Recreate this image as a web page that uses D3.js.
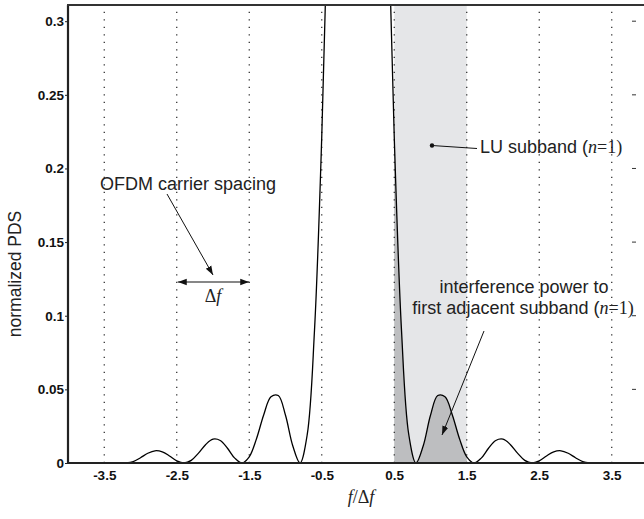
<!DOCTYPE html>
<html><head><meta charset="utf-8">
<script src="https://cdn.jsdelivr.net/npm/d3@7"></script>
<style>body{margin:0;background:#fff}svg{display:block}</style>
</head><body>
<svg id="c" width="644" height="519"></svg>
<script>
// Normalized PSD (f / Δf vs value)
const freq = [-3.2,-3.1,-3.0,-2.9,-2.8,-2.7,-2.6,-2.5,-2.4,-2.3,-2.2,-2.1,-2.0,-1.9,-1.8,-1.7,-1.6,-1.5,-1.4,-1.3,-1.2,-1.1,-1.0,-0.9,-0.8,-0.7,-0.6,-0.5,-0.4,-0.3,-0.2,-0.1,0,
  0.1,0.2,0.3,0.4,0.5,0.6,0.7,0.8,0.9,1.0,1.1,1.2,1.3,1.4,1.5,1.6,1.7,1.8,1.9,2.0,2.1,2.2,2.3,2.4,2.5,2.6,2.7,2.8,2.9,3.0,3.1,3.2];
const psd = [0,0.0010,0.0036,0.0066,0.0083,0.0076,0.0048,0.0015,0,0.0018,0.0067,0.0126,0.0162,0.0153,0.0100,0.0033,0,0.0042,0.0165,0.0328,0.0450,0.0458,0.0324,0.0117,0,0.0194,0.0901,0.2214,0.4053,0.6150,0.8106,0.9497,1.0,
  0.9497,0.8106,0.6150,0.4053,0.2214,0.0901,0.0194,0,0.0117,0.0324,0.0458,0.0450,0.0328,0.0165,0.0042,0,0.0033,0.0100,0.0153,0.0162,0.0126,0.0067,0.0018,0,0.0015,0.0048,0.0076,0.0083,0.0066,0.0036,0.0010,0];
const xTicks = [-3.5,-2.5,-1.5,-0.5,0.5,1.5,2.5,3.5];
const yTicks = [0,0.05,0.1,0.15,0.2,0.25,0.3];
const subband = [0.5, 1.5];

const svg = d3.select("#c");
const x = d3.scaleLinear().domain([-4,4]).range([68,648]);
const y = d3.scaleLinear().domain([0,0.311]).range([463,5]);
const sans = "'Liberation Sans', Arial, Helvetica, sans-serif";
const serif = "'Liberation Serif', 'Times New Roman', serif";

svg.append("defs").append("clipPath").attr("id","clip")
  .append("rect").attr("x",68).attr("y",5).attr("width",580).attr("height",458);
const mk = svg.select("defs").append("marker").attr("id","ah").attr("viewBox","0 0 10 10")
  .attr("refX",10).attr("refY",5).attr("markerWidth",9).attr("markerHeight",9)
  .attr("markerUnits","userSpaceOnUse").attr("orient","auto-start-reverse");
mk.append("path").attr("d","M0,1.5 L10,5 L0,8.5 Z").attr("fill","#111");

const plot = svg.append("g").attr("clip-path","url(#clip)");
// light subband band
plot.append("rect").attr("x",x(subband[0])).attr("y",y(0.311))
  .attr("width",x(subband[1])-x(subband[0])).attr("height",y(0)-y(0.311)).attr("fill","#e5e6e8");

const pts = freq.map((f,i)=>({f, v:psd[i]}));
// interference area
const area = d3.area().x(d=>x(d.f)).y0(y(0)).y1(d=>y(d.v)).curve(d3.curveCatmullRom);
plot.append("path").datum(pts.filter(d=>d.f>=subband[0]-1e-9 && d.f<=subband[1]+1e-9))
  .attr("d",area).attr("fill","#bdbec0");

// dotted vertical grid
plot.selectAll(".grid").data(xTicks).join("line")
  .attr("x1",d=>x(d)).attr("x2",d=>x(d)).attr("y1",y(0)).attr("y2",5)
  .attr("stroke","#222").attr("stroke-width",1.2).attr("stroke-dasharray","1.2,6.3");

// curve
const line = d3.line().x(d=>x(d.f)).y(d=>y(d.v)).curve(d3.curveCatmullRom);
plot.append("path").datum(pts).attr("d",line).attr("fill","none").attr("stroke","#000").attr("stroke-width",1.3);

// axes
const yAxis = d3.axisLeft(y).tickValues(yTicks).tickSize(3).tickFormat(d=>d===0?"0":String(d));
const gy = svg.append("g").attr("transform","translate(68,0)").call(yAxis);
gy.select(".domain").remove();
gy.selectAll("text").attr("font-family",sans).attr("font-weight","bold").attr("font-size",13.5).attr("x",-4).attr("fill","#111");
gy.selectAll("line").attr("stroke","#222");
const xAxis = d3.axisBottom(x).tickValues(xTicks).tickSize(0).tickFormat(d=>String(d));
const gx = svg.append("g").attr("transform","translate(0,463)").call(xAxis);
gx.select(".domain").remove();
gx.selectAll("text").attr("font-family",sans).attr("font-weight","bold").attr("font-size",13.5).attr("dy","0").attr("y",17).attr("fill","#111");

// right side tick marks
svg.selectAll(".rt").data(yTicks.slice(1)).join("line")
  .attr("x1",632).attr("x2",636).attr("y1",d=>y(d)).attr("y2",d=>y(d)).attr("stroke","#333").attr("stroke-width",1);

svg.append("line").attr("x1",68).attr("x2",644).attr("y1",y(0)).attr("y2",y(0)).attr("stroke","#222").attr("stroke-width",2.2);
svg.append("line").attr("x1",68).attr("x2",68).attr("y1",5).attr("y2",y(0)+1).attr("stroke","#222").attr("stroke-width",2.2);
svg.append("line").attr("x1",67).attr("x2",644).attr("y1",5).attr("y2",5).attr("stroke","#333").attr("stroke-width",1.8);

// axis labels
svg.append("text").attr("transform","translate(21,274) rotate(-90)").attr("text-anchor","middle")
  .attr("font-family",sans).attr("font-size",17.5).attr("fill","#222").text("normalized PDS");
const xl = svg.append("text").attr("x",361).attr("y",503).attr("text-anchor","middle")
  .attr("font-family",serif).attr("font-size",18).attr("fill","#222");
xl.append("tspan").attr("font-style","italic").text("f");
xl.append("tspan").text("/Δ");
xl.append("tspan").attr("font-style","italic").text("f");

// OFDM carrier spacing annotation
svg.append("text").attr("x",100).attr("y",190).attr("font-family",sans).attr("font-size",18).attr("fill","#222").text("OFDM carrier spacing");
svg.append("line").attr("x1",167).attr("y1",194).attr("x2",213).attr("y2",275)
  .attr("stroke","#111").attr("stroke-width",1).attr("marker-end","url(#ah)");
svg.append("line").attr("x1",x(-2.5)+1).attr("y1",282).attr("x2",x(-1.5)).attr("y2",282)
  .attr("stroke","#111").attr("stroke-width",1.2).attr("marker-end","url(#ah)").attr("marker-start","url(#ah)");
const df = svg.append("text").attr("x",213).attr("y",302).attr("text-anchor","middle").attr("font-family",serif).attr("font-size",18).attr("fill","#222");
df.append("tspan").text("Δ");
df.append("tspan").attr("font-style","italic").text("f");

// LU subband annotation
svg.append("circle").attr("cx",432).attr("cy",145.5).attr("r",2.2).attr("fill","#111");
svg.append("line").attr("x1",432).attr("y1",145.5).attr("x2",477).attr("y2",148.5).attr("stroke","#111").attr("stroke-width",1);
const lu = svg.append("text").attr("x",480).attr("y",153).attr("font-family",sans).attr("font-size",18).attr("fill","#222");
lu.append("tspan").text("LU subband (");
lu.append("tspan").attr("font-family",serif).attr("font-style","italic").text("n");
lu.append("tspan").attr("font-family",serif).text("=1)");

// interference annotation
svg.append("text").attr("x",524).attr("y",293).attr("text-anchor","middle").attr("font-family",sans).attr("font-size",18).attr("fill","#222").text("interference power to");
const ip = svg.append("text").attr("x",523).attr("y",314).attr("text-anchor","middle").attr("font-family",sans).attr("font-size",18).attr("fill","#222");
ip.append("tspan").text("first adjacent subband (");
ip.append("tspan").attr("font-family",serif).attr("font-style","italic").text("n");
ip.append("tspan").attr("font-family",serif).text("=1)");
svg.append("line").attr("x1",484).attr("y1",331).attr("x2",442).attr("y2",435)
  .attr("stroke","#111").attr("stroke-width",1).attr("marker-end","url(#ah)");
</script>
</body></html>
